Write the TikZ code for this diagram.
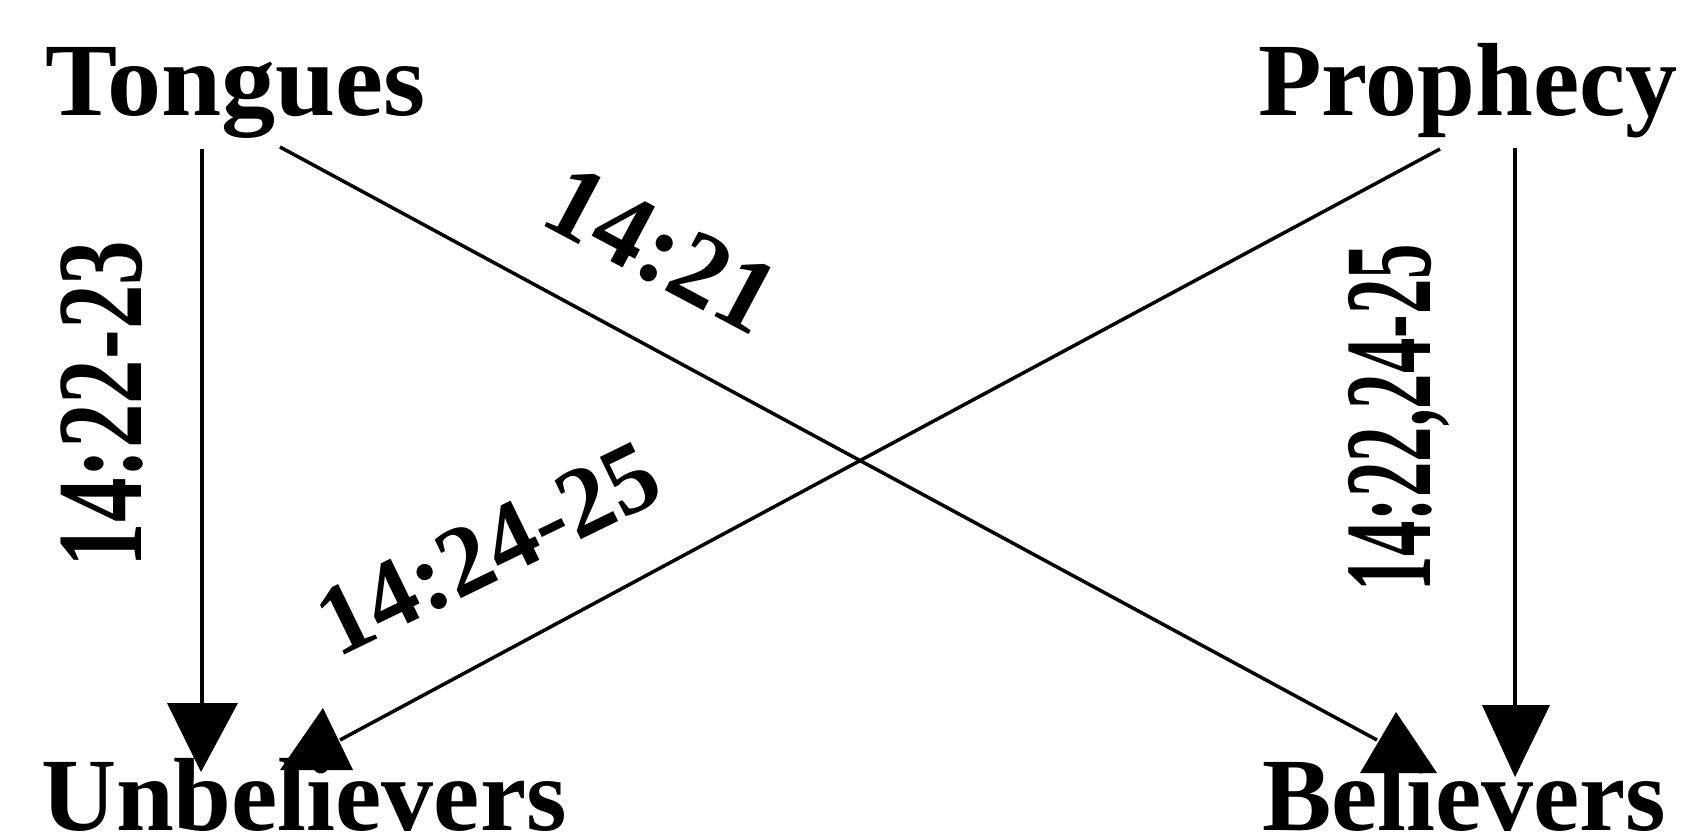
\documentclass[tikz,border=0pt]{standalone}
\usepackage{fontspec}
\setmainfont{Liberation Serif}
\usepackage{graphicx}
\begin{document}
\begin{tikzpicture}[x=1pt,y=-1pt,
  word/.style={font=\fontsize{104}{110}\selectfont\bfseries, inner sep=0pt, outer sep=0pt, anchor=base west},
  ref/.style={inner sep=0pt, outer sep=0pt},
  link/.style={line width=3.5pt},
  head/.style={fill=black}]
\useasboundingbox (0,0) rectangle (1685,838);

% the four terms
\node[word] (tongues)     at (45,115)   {\scalebox{1.04}[1]{Tongues}};
\node[word] (prophecy)    at (1258,115) {Prophecy};
\node[word] (unbelievers) at (41,830)   {Unbelievers};
\node[word] (believers)   at (1262,830) {Believers};

% connector end points
\coordinate (tL) at (202,149);
\coordinate (uL) at (202,704);
\coordinate (tX) at (280,147);
\coordinate (bX) at (1377,740);
\coordinate (pX) at (1440,149);
\coordinate (uX) at (340,740);
\coordinate (pR) at (1515,148);
\coordinate (bR) at (1515,706);

% connectors
\draw[link] (tL) -- (uL);
\draw[link] (tX) -- (bX);
\draw[link] (pX) -- (uX);
\draw[link] (pR) -- (bR);

% arrowheads
\fill[head] (167,703) -- (238,703) -- (201,772) -- cycle;
\fill[head] (1482,705) -- (1550,705) -- (1515,777) -- cycle;
\fill[head] (280,770) -- (353,770) -- (323,708) -- cycle;
\fill[head] (1360,773) -- (1437,773) -- (1396,712) -- cycle;

% verse references
\node[ref, rotate=90, font=\fontsize{122}{130}\selectfont\bfseries] (r1) at (102,404) {\scalebox{0.73}[1]{14:22-23}};
\node[ref, rotate=90, font=\fontsize{124}{130}\selectfont\bfseries] (r2) at (1399,418) {\scalebox{0.57}[1]{14:22,24-25}};
\node[ref, rotate=-28, font=\fontsize{105}{110}\selectfont\bfseries] (r3) at (662,250) {14:21};
\node[ref, rotate=26, font=\fontsize{100}{110}\selectfont\bfseries] (r4) at (488,549) {14:24-25};
\end{tikzpicture}
\end{document}
